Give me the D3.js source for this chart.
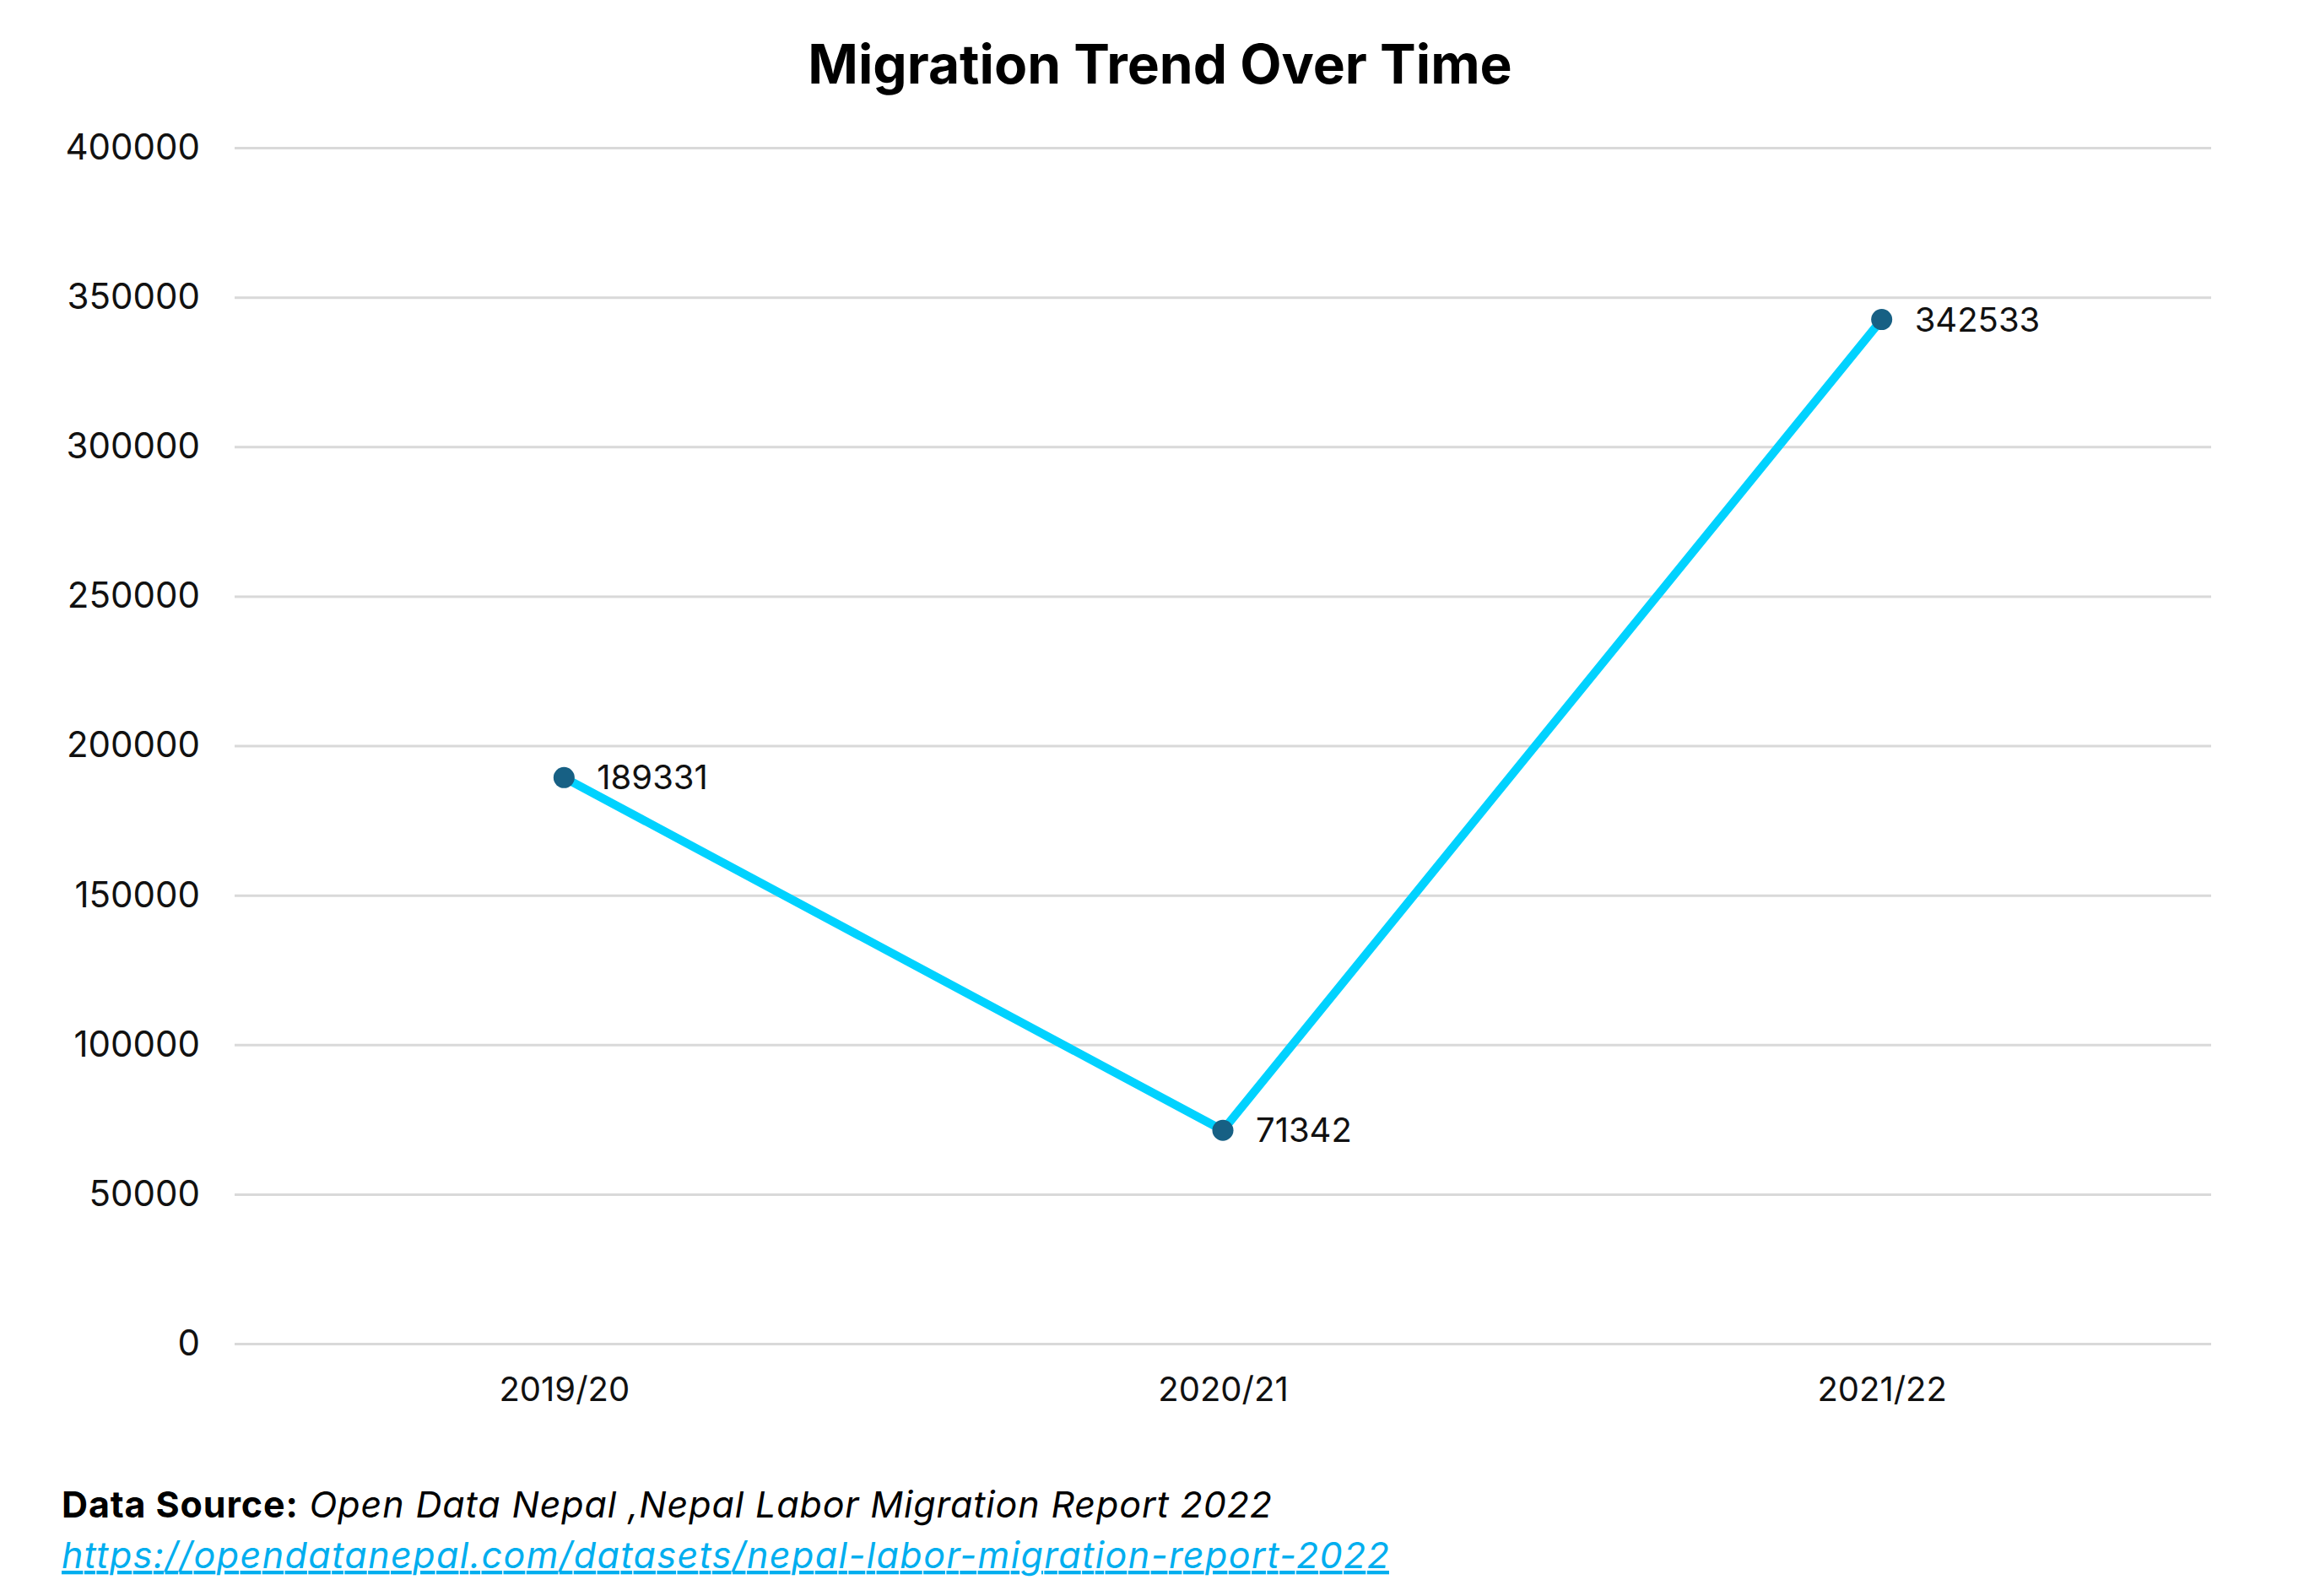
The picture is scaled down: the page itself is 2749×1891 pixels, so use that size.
<!DOCTYPE html>
<html>
<head>
<meta charset="utf-8">
<script src="https://cdn.jsdelivr.net/npm/d3@7"></script>
<style>
  html, body { margin: 0; padding: 0; background: #ffffff; }
  svg { display: block; font-family: Inter, "Noto Sans", sans-serif; }
</style>
</head>
<body>
<svg id="chart" width="2749" height="1891"></svg>
<script>
// ---- data ----
const categories = ["2019/20", "2020/21", "2021/22"];
const migrants = [189331, 71342, 342533];
const yTicks = [0, 50000, 100000, 150000, 200000, 250000, 300000, 350000, 400000];
const titleText = "Migration Trend Over Time";
const sourceLabel = "Data Source:";
const sourceText = " Open Data Nepal ,Nepal Labor Migration Report 2022";
const sourceUrl = "https://opendatanepal.com/datasets/nepal-labor-migration-report-2022";

// ---- layout ----
const W = 2749, H = 1891;
const plot = { left: 278, right: 2620, top: 175, bottom: 1592 };
const svg = d3.select("#chart");

svg.append("rect").attr("width", W).attr("height", H).attr("fill", "#ffffff");

const x = d3.scalePoint().domain(categories).range([plot.left, plot.right]).padding(0.5);
const y = d3.scaleLinear().domain([0, 400000]).range([plot.bottom, plot.top]);

// title
svg.append("text")
  .attr("x", W / 2).attr("y", 99)
  .attr("text-anchor", "middle")
  .attr("font-size", 64).attr("font-weight", 700)
  .attr("fill", "#000")
  .text(titleText);

// y axis with gridlines
const yAxis = svg.append("g")
  .attr("transform", `translate(${plot.left},0)`)
  .call(d3.axisLeft(y).tickValues(yTicks).tickSize(-(plot.right - plot.left)).tickPadding(41).tickFormat(d3.format("d")));
yAxis.select(".domain").remove();
yAxis.selectAll(".tick line").attr("stroke", "#d9d9d9").attr("stroke-width", 3);
yAxis.selectAll(".tick text").attr("font-size", 42).attr("fill", "#111").attr("font-family", "Inter, sans-serif");

// x axis
const xAxis = svg.append("g")
  .attr("transform", `translate(0,${plot.bottom})`)
  .call(d3.axisBottom(x).tickSize(0).tickPadding(40));
xAxis.select(".domain").remove();
xAxis.selectAll(".tick text").attr("font-size", 40).attr("fill", "#111").attr("font-family", "Inter, sans-serif");

// line
const line = d3.line().x((d, i) => x(categories[i])).y(d => y(d));
svg.append("path")
  .datum(migrants)
  .attr("d", line)
  .attr("fill", "none")
  .attr("stroke", "#00d2ff")
  .attr("stroke-width", 10)
  .attr("stroke-linejoin", "round");

// points
svg.selectAll("circle.pt").data(migrants).join("circle")
  .attr("class", "pt")
  .attr("cx", (d, i) => x(categories[i]))
  .attr("cy", d => y(d))
  .attr("r", 12.5)
  .attr("fill", "#176084");

// value labels
svg.selectAll("text.val").data(migrants).join("text")
  .attr("class", "val")
  .attr("x", (d, i) => x(categories[i]) + 39)
  .attr("y", d => y(d))
  .attr("dy", "0.35em")
  .attr("font-size", 40)
  .attr("fill", "#111")
  .text(d => d);

// footer
const src = svg.append("text").attr("x", 73).attr("y", 1798).attr("font-size", 43).attr("fill", "#000")
  .attr("textLength", 1434).attr("lengthAdjust", "spacing");
src.append("tspan").attr("font-weight", 700).text(sourceLabel);
src.append("tspan").attr("font-style", "italic").text(sourceText);

svg.append("text")
  .attr("x", 73).attr("y", 1858)
  .attr("font-size", 43)
  .attr("font-style", "italic")
  .attr("fill", "#00aeef")
  .attr("text-decoration", "underline")
  .attr("textLength", 1573).attr("lengthAdjust", "spacing")
  .text(sourceUrl);
</script>
</body>
</html>
